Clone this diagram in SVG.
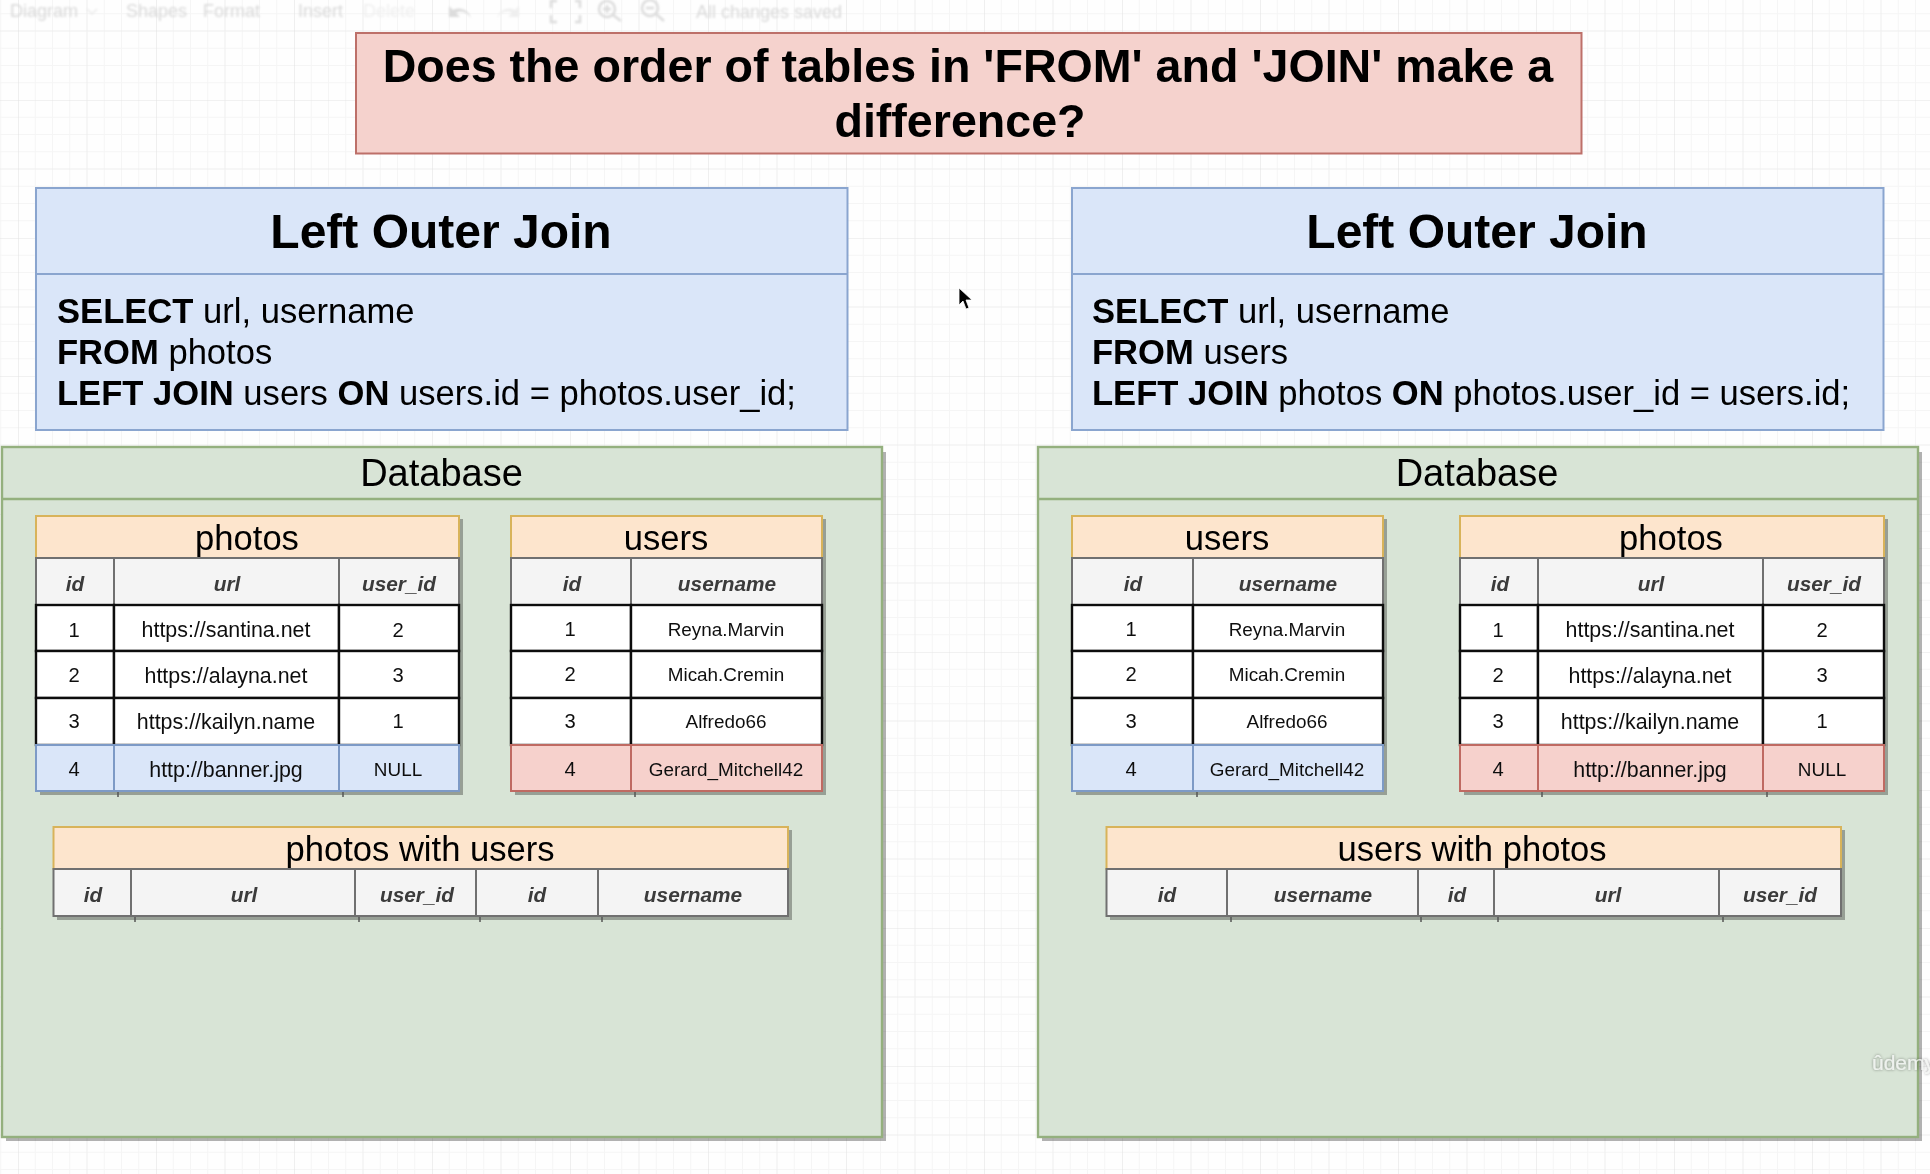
<svg xmlns="http://www.w3.org/2000/svg" width="1930" height="1174" viewBox="0 0 1930 1174">
<style>
text{font-family:"Liberation Sans",Arial,sans-serif;fill:#000}
.m{text-anchor:middle}
.b{font-weight:bold}
.title{font-size:46.6px;font-weight:bold;text-anchor:middle}
.h1{font-size:48px;font-weight:bold;text-anchor:middle}
.sql{font-size:34.6px}
.db{font-size:38px;text-anchor:middle}
.tn{font-size:34.6px;text-anchor:middle}
.th{font-size:20.8px;font-weight:bold;font-style:italic;text-anchor:middle;fill:#3a3a3a}
.td{font-size:20.2px;text-anchor:middle;fill:#111}
.tl{font-size:21.4px;text-anchor:middle;fill:#111}
.tu{font-size:18.9px;text-anchor:middle;fill:#111}
.tb{font-size:18px;fill:#d9d9d9}
.sh{fill:#000;opacity:.3}
.red{fill:#f5d2cd;stroke:#bd6f69;stroke-width:2}
.blue{fill:#dae6f9;stroke:#8aa5cf;stroke-width:2}
.green{fill:#d8e4d6;stroke:#94b07e;stroke-width:2.4}
.orange{fill:#fde5cd;stroke:#d8b35a;stroke-width:2}
.gray{fill:#f4f4f4;stroke:#707070;stroke-width:2}
.white{fill:#fff;stroke:#111;stroke-width:2.4}
.rowb{fill:#dae6f9;stroke:#7d9ac6;stroke-width:2}
.rowr{fill:#f6d1cc;stroke:#bf6a62;stroke-width:2}
.ic{fill:none;stroke:#dcdcdc;stroke-width:2.5}
</style>
<defs>
<pattern id="grid" width="138" height="138" patternUnits="userSpaceOnUse" patternTransform="translate(18 100)">
<path d="M17.25 0V138M34.5 0V138M51.75 0V138M86.25 0V138M103.5 0V138M120.75 0V138M0 17.25H138M0 34.5H138M0 51.75H138M0 86.25H138M0 103.5H138M0 120.75H138" fill="none" stroke="#f5f5f5" stroke-width="1"/>
<path d="M69 0V138M0 69H138" fill="none" stroke="#eeeeee" stroke-width="1"/>
<path d="M0 0V138M0 0H138" fill="none" stroke="#e4e4e4" stroke-width="1.2"/>
</pattern>
<filter id="soft" x="0" y="0" width="1930" height="1174" filterUnits="userSpaceOnUse"><feGaussianBlur stdDeviation="0.5"/></filter>
<filter id="soft2" x="0" y="0" width="1930" height="1174" filterUnits="userSpaceOnUse"><feGaussianBlur stdDeviation="0.8"/></filter>
<filter id="wm" x="1800" y="1030" width="130" height="60" filterUnits="userSpaceOnUse"><feDropShadow dx="0" dy="0" stdDeviation="1.6" flood-color="#000" flood-opacity=".55"/></filter>
</defs>
<rect width="1930" height="1174" fill="#fefefe"/>
<rect width="1930" height="1174" fill="url(#grid)"/>

<g id="toolbar" filter="url(#soft2)">
<text class="tb" x="10" y="17">Diagram</text>
<path class="ic" d="M87 9l5 5 5-5" style="stroke-width:1.5;stroke:#eaeaea"/>
<text class="tb" x="126" y="17">Shapes</text>
<text class="tb" x="203" y="17">Format</text>
<text class="tb" x="298" y="17">Insert</text>
<text class="tb" x="363" y="17" style="fill:#efefef">Delete</text>
<path d="M449 6v11h11l-4-4c5-3 11-1 15 5-2-8-11-12-18-8z" fill="#dcdcdc"/>
<path d="M519 6v11h-11l4-4c-5-3-11-1-15 5 2-8 11-12 18-8z" fill="#efefef"/>
<path class="ic" d="M557 1h-6v7M557 22h-6v-7M575 1h5v7M575 22h5v-7"/>
<circle class="ic" cx="607" cy="9" r="8"/><path class="ic" d="M613 15l8 6M603 9h8M607 5v8" />
<circle class="ic" cx="650" cy="8" r="8"/><path class="ic" d="M656 14l8 7M646 8h8"/>
<text class="tb" x="696" y="18">All changes saved</text>
</g>

<g filter="url(#soft)">
<g id="title">
<rect class="red" x="356" y="33" width="1225.500" height="120.500"/>
<text class="title" x="968" y="82">Does the order of tables in 'FROM' and 'JOIN' make a</text>
<text class="title" x="960" y="137">difference?</text>
</g>

<g id="query-left">
<rect class="blue" x="36" y="188" width="811.500" height="242"/>
<path class="blue" d="M36 274H847.500"/>
<text class="h1" x="441" y="248">Left Outer Join</text>
<text class="sql" x="57" y="322.500"><tspan class="b">SELECT</tspan> url, username</text>
<text class="sql" x="57" y="364"><tspan class="b">FROM</tspan> photos</text>
<text class="sql" x="57" y="405"><tspan class="b">LEFT JOIN</tspan> users <tspan class="b">ON</tspan> users.id = photos.user_id;</text>
</g>

<g id="query-right">
<rect class="blue" x="1072" y="188" width="811.500" height="242"/>
<path class="blue" d="M1072 274H1883.500"/>
<text class="h1" x="1477" y="248">Left Outer Join</text>
<text class="sql" x="1092" y="322.500"><tspan class="b">SELECT</tspan> url, username</text>
<text class="sql" x="1092" y="364"><tspan class="b">FROM</tspan> users</text>
<text class="sql" x="1092" y="405"><tspan class="b">LEFT JOIN</tspan> photos <tspan class="b">ON</tspan> photos.user_id = users.id;</text>
</g>

<g id="database-left">
<rect class="sh" x="6" y="452" width="880" height="689"/>
<rect class="green" x="2" y="447" width="880" height="690"/>
<path class="green" d="M2 499H882"/>
<text class="db" x="441.500" y="486">Database</text>
</g>

<g id="database-right">
<rect class="sh" x="1042" y="452" width="880" height="689"/>
<rect class="green" x="1038" y="447" width="880" height="690"/>
<path class="green" d="M1038 499H1918"/>
<text class="db" x="1477" y="486">Database</text>
</g>

<g id="table-photos-left">
<rect class="sh" x="40" y="519" width="423" height="276"/>
<path d="M118 791v6M343 791v6" stroke="#555" stroke-width="1.500"/>
<rect class="orange" x="36" y="516" width="423" height="42"/>
<text class="tn" x="247" y="550">photos</text>
<rect class="gray" x="36" y="558" width="78" height="47"/><rect class="gray" x="114" y="558" width="225" height="47"/><rect class="gray" x="339" y="558" width="120" height="47"/>
<text class="th" x="75" y="591">id</text><text class="th" x="227" y="591">url</text><text class="th" x="399" y="591">user_id</text>
<rect class="white" x="36" y="605" width="78" height="46"/><rect class="white" x="114" y="605" width="225" height="46"/><rect class="white" x="339" y="605" width="120" height="46"/>
<text class="td" x="74" y="637">1</text><text class="tl" x="226" y="637">https://santina.net</text><text class="td" x="398" y="637">2</text>
<rect class="white" x="36" y="651" width="78" height="47"/><rect class="white" x="114" y="651" width="225" height="47"/><rect class="white" x="339" y="651" width="120" height="47"/>
<text class="td" x="74" y="682">2</text><text class="tl" x="226" y="683">https://alayna.net</text><text class="td" x="398" y="682">3</text>
<rect class="white" x="36" y="698" width="78" height="47"/><rect class="white" x="114" y="698" width="225" height="47"/><rect class="white" x="339" y="698" width="120" height="47"/>
<text class="td" x="74" y="728">3</text><text class="tl" x="226" y="729">https://kailyn.name</text><text class="td" x="398" y="728">1</text>
<rect class="rowb" x="36" y="745" width="78" height="46"/><rect class="rowb" x="114" y="745" width="225" height="46"/><rect class="rowb" x="339" y="745" width="120" height="46"/>
<text class="td" x="74" y="776">4</text><text class="tl" x="226" y="777">http://banner.jpg</text><text class="tu" x="398" y="776">NULL</text>
</g>

<g id="table-users-left">
<rect class="sh" x="515" y="519" width="311" height="276"/>
<path d="M635 791v6" stroke="#555" stroke-width="1.500"/>
<rect class="orange" x="511" y="516" width="311" height="42"/>
<text class="tn" x="666" y="550">users</text>
<rect class="gray" x="511" y="558" width="120" height="47"/><rect class="gray" x="631" y="558" width="191" height="47"/>
<text class="th" x="572" y="591">id</text><text class="th" x="727" y="591">username</text>
<rect class="white" x="511" y="605" width="120" height="46"/><rect class="white" x="631" y="605" width="191" height="46"/>
<text class="td" x="570" y="636">1</text><text class="tu" x="726" y="636">Reyna.Marvin</text>
<rect class="white" x="511" y="651" width="120" height="47"/><rect class="white" x="631" y="651" width="191" height="47"/>
<text class="td" x="570" y="681">2</text><text class="tu" x="726" y="681">Micah.Cremin</text>
<rect class="white" x="511" y="698" width="120" height="47"/><rect class="white" x="631" y="698" width="191" height="47"/>
<text class="td" x="570" y="728">3</text><text class="tu" x="726" y="728">Alfredo66</text>
<rect class="rowr" x="511" y="745" width="120" height="46"/><rect class="rowr" x="631" y="745" width="191" height="46"/>
<text class="td" x="570" y="776">4</text><text class="tu" x="726" y="776">Gerard_Mitchell42</text>
</g>

<g id="table-photos-with-users">
<rect class="sh" x="57" y="830" width="735" height="90"/>
<path d="M135 916v6M359 916v6M480 916v6M602 916v6" stroke="#555" stroke-width="1.500"/>
<rect class="orange" x="53.500" y="827" width="734.500" height="42"/>
<text class="tn" x="420" y="860.500">photos with users</text>
<rect class="gray" x="53.500" y="869" width="77.500" height="47"/><rect class="gray" x="131" y="869" width="224" height="47"/><rect class="gray" x="355" y="869" width="121" height="47"/><rect class="gray" x="476" y="869" width="122" height="47"/><rect class="gray" x="598" y="869" width="190" height="47"/>
<text class="th" x="93" y="902">id</text><text class="th" x="244" y="902">url</text><text class="th" x="417" y="902">user_id</text><text class="th" x="537" y="902">id</text><text class="th" x="693" y="902">username</text>
</g>

<g id="table-users-right">
<rect class="sh" x="1076" y="519" width="311" height="276"/>
<path d="M1197 791v6" stroke="#555" stroke-width="1.500"/>
<rect class="orange" x="1072" y="516" width="311" height="42"/>
<text class="tn" x="1227" y="550">users</text>
<rect class="gray" x="1072" y="558" width="121" height="47"/><rect class="gray" x="1193" y="558" width="190" height="47"/>
<text class="th" x="1133" y="591">id</text><text class="th" x="1288" y="591">username</text>
<rect class="white" x="1072" y="605" width="121" height="46"/><rect class="white" x="1193" y="605" width="190" height="46"/>
<text class="td" x="1131" y="636">1</text><text class="tu" x="1287" y="636">Reyna.Marvin</text>
<rect class="white" x="1072" y="651" width="121" height="47"/><rect class="white" x="1193" y="651" width="190" height="47"/>
<text class="td" x="1131" y="681">2</text><text class="tu" x="1287" y="681">Micah.Cremin</text>
<rect class="white" x="1072" y="698" width="121" height="47"/><rect class="white" x="1193" y="698" width="190" height="47"/>
<text class="td" x="1131" y="728">3</text><text class="tu" x="1287" y="728">Alfredo66</text>
<rect class="rowb" x="1072" y="745" width="121" height="46"/><rect class="rowb" x="1193" y="745" width="190" height="46"/>
<text class="td" x="1131" y="776">4</text><text class="tu" x="1287" y="776">Gerard_Mitchell42</text>
</g>

<g id="table-photos-right">
<rect class="sh" x="1464" y="519" width="424" height="276"/>
<path d="M1542 791v6M1767 791v6" stroke="#555" stroke-width="1.500"/>
<rect class="orange" x="1460" y="516" width="424" height="42"/>
<text class="tn" x="1671" y="550">photos</text>
<rect class="gray" x="1460" y="558" width="78" height="47"/><rect class="gray" x="1538" y="558" width="225" height="47"/><rect class="gray" x="1763" y="558" width="121" height="47"/>
<text class="th" x="1500" y="591">id</text><text class="th" x="1651" y="591">url</text><text class="th" x="1824" y="591">user_id</text>
<rect class="white" x="1460" y="605" width="78" height="46"/><rect class="white" x="1538" y="605" width="225" height="46"/><rect class="white" x="1763" y="605" width="121" height="46"/>
<text class="td" x="1498" y="637">1</text><text class="tl" x="1650" y="637">https://santina.net</text><text class="td" x="1822" y="637">2</text>
<rect class="white" x="1460" y="651" width="78" height="47"/><rect class="white" x="1538" y="651" width="225" height="47"/><rect class="white" x="1763" y="651" width="121" height="47"/>
<text class="td" x="1498" y="682">2</text><text class="tl" x="1650" y="683">https://alayna.net</text><text class="td" x="1822" y="682">3</text>
<rect class="white" x="1460" y="698" width="78" height="47"/><rect class="white" x="1538" y="698" width="225" height="47"/><rect class="white" x="1763" y="698" width="121" height="47"/>
<text class="td" x="1498" y="728">3</text><text class="tl" x="1650" y="729">https://kailyn.name</text><text class="td" x="1822" y="728">1</text>
<rect class="rowr" x="1460" y="745" width="78" height="46"/><rect class="rowr" x="1538" y="745" width="225" height="46"/><rect class="rowr" x="1763" y="745" width="121" height="46"/>
<text class="td" x="1498" y="776">4</text><text class="tl" x="1650" y="777">http://banner.jpg</text><text class="tu" x="1822" y="776">NULL</text>
</g>

<g id="table-users-with-photos">
<rect class="sh" x="1110" y="830" width="735" height="90"/>
<path d="M1231 916v6M1421 916v6M1498 916v6M1723 916v6" stroke="#555" stroke-width="1.500"/>
<rect class="orange" x="1106.500" y="827" width="734.500" height="42"/>
<text class="tn" x="1472" y="860.500">users with photos</text>
<rect class="gray" x="1106.500" y="869" width="120.500" height="47"/><rect class="gray" x="1227" y="869" width="191" height="47"/><rect class="gray" x="1418" y="869" width="76" height="47"/><rect class="gray" x="1494" y="869" width="225" height="47"/><rect class="gray" x="1719" y="869" width="122" height="47"/>
<text class="th" x="1167" y="902">id</text><text class="th" x="1323" y="902">username</text><text class="th" x="1457" y="902">id</text><text class="th" x="1608" y="902">url</text><text class="th" x="1780" y="902">user_id</text>
</g>

<path id="cursor" d="M959 288v17l4-4 3 8 3-1-3-8h6z" fill="#000" stroke="#fff" stroke-width="0.800"/>
</g>

<text id="watermark" x="1872" y="1070" filter="url(#wm)" style="font-family:'Liberation Sans',sans-serif;font-size:21px;fill:#f2f4f2;opacity:.85">ûdemy</text>
</svg>
